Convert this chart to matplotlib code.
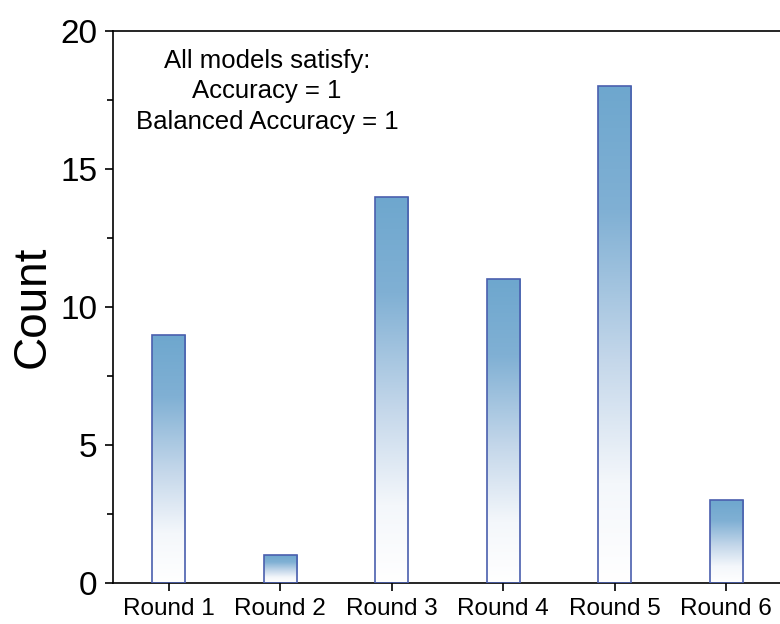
import numpy as np
import matplotlib
matplotlib.use("Agg")
import matplotlib.pyplot as plt
from matplotlib.colors import LinearSegmentedColormap

rounds = ["Round 1", "Round 2", "Round 3", "Round 4", "Round 5", "Round 6"]
counts = [9, 1, 14, 11, 18, 3]

plt.rcParams["font.family"] = ["Liberation Sans", "DejaVu Sans"]

fig = plt.figure(figsize=(7.8, 6.24), dpi=100)
ax = fig.add_axes([113 / 780, 41 / 624, 669 / 780, 552 / 624])

x = np.arange(len(rounds))
width = 0.3
# vertical fill: white at the base, steel blue towards the top
cmap = LinearSegmentedColormap.from_list(
    "fade",
    [(0.0, "#ffffff"), (0.2, "#f4f7fb"), (0.45, "#c4d7ea"),
     (0.75, "#80b0d4"), (1.0, "#6ea7ce")])
grad = np.linspace(0, 1, 256).reshape(-1, 1)

bars = ax.bar(x, counts, width=width, facecolor="none",
              edgecolor="#4a5fae", linewidth=1.2, zorder=3)
for rect, h in zip(bars, counts):
    x0 = rect.get_x()
    im = ax.imshow(grad, cmap=cmap, origin="lower", aspect="auto",
                   extent=(x0, x0 + width, 0, h), zorder=2)
    im.set_clip_path(rect)

ax.set_xlim(-0.5, 5.5)
ax.set_ylim(0, 20)
ax.set_xticks(x)
ax.set_xticklabels(rounds, fontsize=17.5)
ax.set_yticks([0, 5, 10, 15, 20])
ax.set_yticks([2.5, 7.5, 12.5, 17.5], minor=True)
ax.tick_params(axis="y", which="major", direction="out", length=6, width=1.2,
               labelsize=24, pad=5)
ax.tick_params(axis="y", which="minor", direction="out", length=4, width=1.2)
ax.tick_params(axis="x", which="major", direction="out", length=6, width=1.2, pad=5)
ax.set_ylabel("Count", fontsize=33, labelpad=4)

for s in ax.spines.values():
    s.set_linewidth(1.2)

ax.text(0.23, 0.968, "All models satisfy:\nAccuracy = 1\nBalanced Accuracy = 1",
        transform=ax.transAxes, ha="center", va="top", fontsize=18.5,
        linespacing=1.35)

fig.savefig("out.png", dpi=100)
